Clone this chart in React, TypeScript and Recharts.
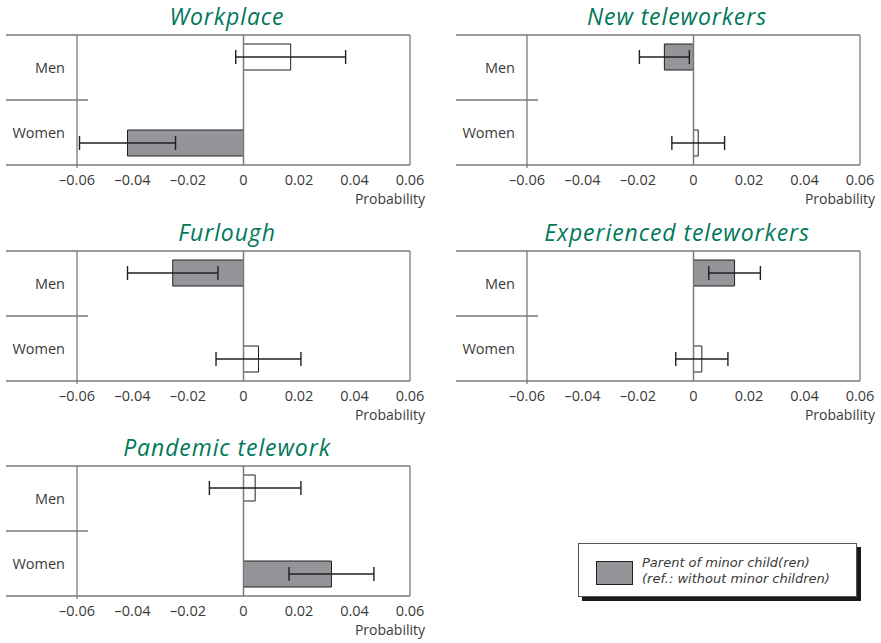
import React from 'react';
import { BarChart, Bar, XAxis, YAxis, ErrorBar, Cell, ReferenceLine } from 'recharts';

// categories and axis
const groups = ['Men', 'Women'];
const xTicks = [-0.06, -0.04, -0.02, 0, 0.02, 0.04, 0.06];

// marginal effects (probability), half-width of the CI, and whether the bar is shaded
const workplaceEffect = [0.017, -0.0418];
const workplaceError = [0.0198, 0.0173];
const workplaceShaded = [false, true];

const newTeleEffect = [-0.0105, 0.0017];
const newTeleError = [0.009, 0.0095];
const newTeleShaded = [true, false];

const furloughEffect = [-0.0255, 0.0054];
const furloughError = [0.0163, 0.0153];
const furloughShaded = [true, false];

const expTeleEffect = [0.0148, 0.003];
const expTeleError = [0.0093, 0.0094];
const expTeleShaded = [true, false];

const pandemicEffect = [0.0042, 0.0317];
const pandemicError = [0.0165, 0.0153];
const pandemicShaded = [false, true];

const W = 430;
const H = 215;
const X_AXIS_H = 30;
const M = { top: 35, right: 20, bottom: 50 - X_AXIS_H, left: 6 };
const YAXIS_W = 71;
const FONT = '"Open Sans", "DejaVu Sans", sans-serif';
const LINE = '#7a7a7a';
const INK = '#3a3a3a';
const GREY = '#939598';
const GREEN = '#00785a';

const fmt = (v: number) => (v === 0 ? '0' : (v < 0 ? '\u2013' : '') + Math.abs(v).toFixed(2));

interface PanelProps {
  title: string;
  effect: number[];
  error: number[];
  shaded: boolean[];
  left: number;
  top: number;
}

function Panel({ title, effect, error, shaded, left, top }: PanelProps) {
  // Men goes into the upper slot of its band, Women into the lower one
  const data = groups.map((g, i) => ({
    group: g,
    upper: i === 0 ? effect[i] : undefined,
    upperErr: i === 0 ? error[i] : undefined,
    lower: i === 1 ? effect[i] : undefined,
    lowerErr: i === 1 ? error[i] : undefined,
    shaded: shaded[i],
  }));

  const plotLeft = M.left + YAXIS_W;
  const plotRight = W - M.right;
  const plotTop = M.top;
  const plotBottom = H - M.bottom - X_AXIS_H;
  const mid = (plotTop + plotBottom) / 2;

  return (
    <div style={{ position: 'absolute', left, top, width: W, height: H }}>
      <div
        style={{
          position: 'absolute',
          left: 27,
          top: 3,
          width: 400,
          textAlign: 'center',
          color: GREEN,
          fontSize: 23,
          lineHeight: '26px',
          fontStyle: 'italic',
          letterSpacing: 0.9,
          whiteSpace: 'nowrap',
        }}
      >
        {title}
      </div>
      <BarChart
        width={W}
        height={H}
        data={data}
        layout="vertical"
        margin={M}
        barSize={26}
        barGap={-5}
        style={{ position: 'absolute', left: 0, top: 0 }}
      >
        <XAxis
          type="number"
          domain={[-0.06, 0.06]}
          ticks={xTicks}
          height={X_AXIS_H}
          allowDataOverflow
          tickFormatter={fmt}
          axisLine={false}
          tickLine={false}
          tickMargin={4}
          tick={{ fill: INK, fontSize: 14.5, fontFamily: FONT }}
          label={{
            content: (p: any) => (
              <text
                x={p.viewBox.x + p.viewBox.width + 15}
                y={p.viewBox.y + 39}
                textAnchor="end"
                fill={INK}
                fontSize={14}
                fontFamily={FONT}
              >
                Probability
              </text>
            ),
          }}
        />
        <YAxis
          type="category"
          dataKey="group"
          width={YAXIS_W}
          axisLine={false}
          tickLine={false}
          tickMargin={6}
          tick={{ fill: INK, fontSize: 14.5, fontFamily: FONT }}
        />
        <ReferenceLine x={0} stroke={LINE} strokeWidth={1.5} />
        <Bar dataKey="upper" stroke="#231f20" strokeWidth={1} isAnimationActive={false}>
          {data.map((d, i) => (
            <Cell key={i} fill={d.shaded ? GREY : '#ffffff'} />
          ))}
          <ErrorBar dataKey="upperErr" direction="x" width={7} stroke="#231f20" strokeWidth={1.4} isAnimationActive={false} />
        </Bar>
        <Bar dataKey="lower" stroke="#231f20" strokeWidth={1} isAnimationActive={false}>
          {data.map((d, i) => (
            <Cell key={i} fill={d.shaded ? GREY : '#ffffff'} />
          ))}
          <ErrorBar dataKey="lowerErr" direction="x" width={7} stroke="#231f20" strokeWidth={1.4} isAnimationActive={false} />
        </Bar>
      </BarChart>
      {/* frame and separator */}
      <svg width={W} height={H} style={{ position: 'absolute', left: 0, top: 0, pointerEvents: 'none' }}>
        <g stroke={LINE} strokeWidth={1.3}>
          <line x1={M.left} y1={plotTop} x2={plotRight} y2={plotTop} />
          <line x1={M.left} y1={plotBottom} x2={plotRight} y2={plotBottom} />
          <line x1={plotLeft} y1={plotTop} x2={plotLeft} y2={plotBottom + 3} />
          <line x1={plotRight} y1={plotTop} x2={plotRight} y2={plotBottom} />
          <line x1={M.left} y1={mid} x2={plotLeft + 11} y2={mid} />
        </g>
      </svg>
    </div>
  );
}

export default function App() {
  return (
    <div
      style={{
        position: 'absolute',
        left: 0,
        top: 0,
        width: 881,
        height: 643,
        overflow: 'hidden',
        background: '#ffffff',
        fontFamily: FONT,
      }}
    >
      <Panel title="Workplace" effect={workplaceEffect} error={workplaceError} shaded={workplaceShaded} left={0} top={0} />
      <Panel title="New teleworkers" effect={newTeleEffect} error={newTeleError} shaded={newTeleShaded} left={450} top={0} />
      <Panel title="Furlough" effect={furloughEffect} error={furloughError} shaded={furloughShaded} left={0} top={216} />
      <Panel title="Experienced teleworkers" effect={expTeleEffect} error={expTeleError} shaded={expTeleShaded} left={450} top={216} />
      <Panel title="Pandemic telework" effect={pandemicEffect} error={pandemicError} shaded={pandemicShaded} left={0} top={431} />

      <div
        style={{
          position: 'absolute',
          left: 578,
          top: 543,
          width: 277,
          height: 52,
          border: '1px solid #555',
          boxShadow: '4px 4px 0 #1a1a1a',
          background: '#ffffff',
        }}
      >
        <div
          style={{
            position: 'absolute',
            left: 17,
            top: 17,
            width: 35,
            height: 22,
            background: GREY,
            border: '1px solid #231f20',
          }}
        />
        <div
          style={{
            position: 'absolute',
            left: 63,
            top: 11,
            fontFamily: '"DejaVu Sans", sans-serif',
            fontSize: 13,
            lineHeight: '16px',
            fontStyle: 'italic',
            color: INK,
            whiteSpace: 'nowrap',
          }}
        >
          Parent of minor child(ren)
          <br />
          (ref.: without minor children)
        </div>
      </div>
    </div>
  );
}
